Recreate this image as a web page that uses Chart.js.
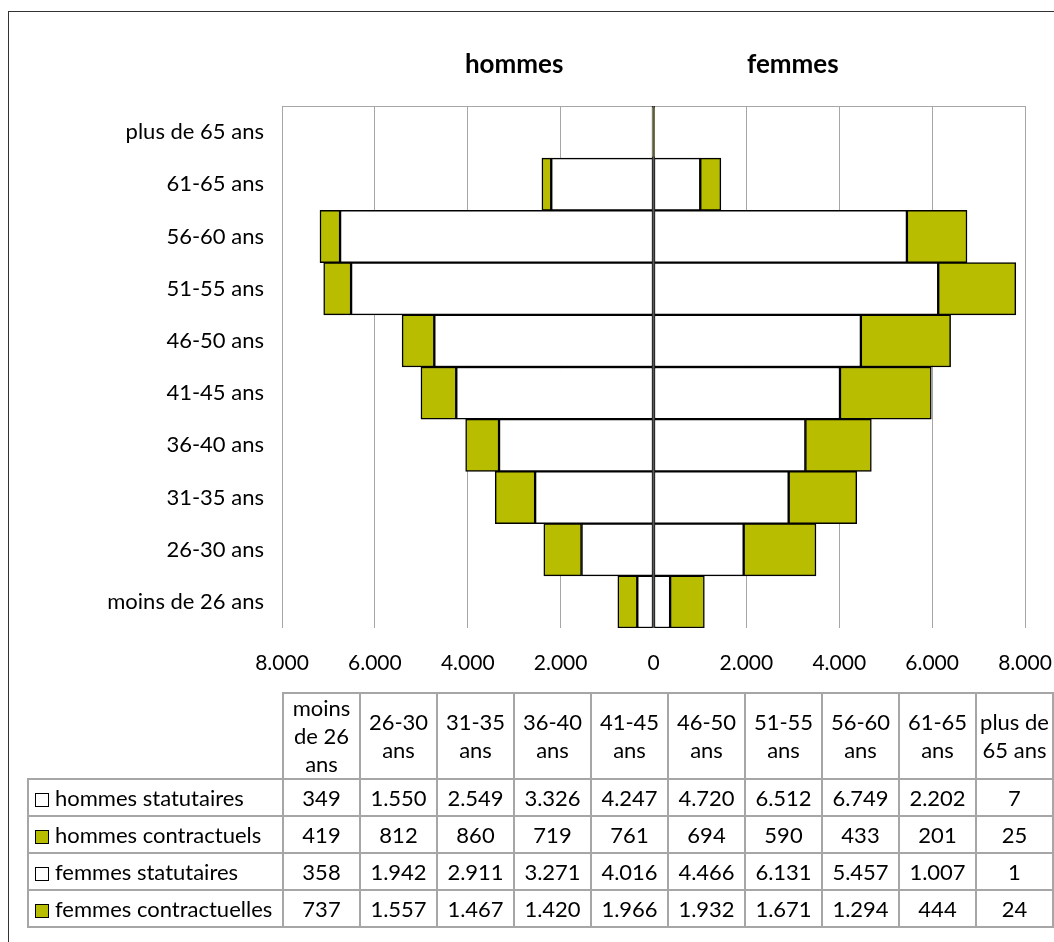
<!DOCTYPE html>
<html lang="fr">
<head>
    <meta charset="UTF-8">
    <title>Pyramide des âges</title>
    <script src="https://cdn.jsdelivr.net/npm/chart.js"></script>
    <style>
        html, body { margin: 0; padding: 0; background: #fff; overflow: hidden; }
        body { width: 1054px; height: 942px; position: relative; font-family: Lato, "Noto Sans", sans-serif; }
        #frame { position: absolute; left: 8px; top: 11px; width: 1200px; height: 1000px;
                 border-left: 1.5px solid #333; border-top: 1.5px solid #333; }
        #wrap { position: absolute; left: 0; top: 0; width: 1054px; height: 700px; }
        #dataTable { position: absolute; left: 27px; top: 692px; border-collapse: collapse;
                     table-layout: fixed; font-size: 22px; color: #000; }
        #dataTable td, #dataTable th { border: 2px solid #a6a6a6; text-align: center;
                     font-weight: normal; padding: 0 2px; }
        #dataTable th { height: 84px; line-height: 28px; vertical-align: middle; }
        #dataTable td { height: 35px; line-height: 35px; white-space: nowrap; }
        #dataTable th.blank { border-top: none; border-left: none; }
        #dataTable td.name { text-align: left; padding-left: 6px; }
        .key { display: inline-block; width: 12px; height: 12px; border: 1.5px solid #000;
               margin-right: 6px; vertical-align: -1px; }
    </style>
</head>
<body>
    <div id="frame"></div>
    <div id="wrap"><canvas id="pyramid" width="1054" height="700"></canvas></div>
    <table id="dataTable"></table>

    <script>
        const ageGroups = ["moins de 26 ans", "26-30 ans", "31-35 ans", "36-40 ans", "41-45 ans",
                           "46-50 ans", "51-55 ans", "56-60 ans", "61-65 ans", "plus de 65 ans"];
        const hommesStatutaires = [349, 1550, 2549, 3326, 4247, 4720, 6512, 6749, 2202, 7];
        const hommesContractuels = [419, 812, 860, 719, 761, 694, 590, 433, 201, 25];
        const femmesStatutaires = [358, 1942, 2911, 3271, 4016, 4466, 6131, 5457, 1007, 1];
        const femmesContractuelles = [737, 1557, 1467, 1420, 1966, 1932, 1671, 1294, 444, 24];
        const seriesNames = ["hommes statutaires", "hommes contractuels", "femmes statutaires", "femmes contractuelles"];
        const sideTitles = ["hommes", "femmes"];

        const OLIVE = "#b8bd00";
        const FONT = "Lato, 'Noto Sans', sans-serif";

        // 1.550 style thousands separator
        const fmt = v => Math.abs(v).toLocaleString("de-DE");

        const series = [
            { label: seriesNames[0], values: hommesStatutaires, sign: -1, color: "#ffffff" },
            { label: seriesNames[1], values: hommesContractuels, sign: -1, color: OLIVE },
            { label: seriesNames[2], values: femmesStatutaires, sign: 1, color: "#ffffff" },
            { label: seriesNames[3], values: femmesContractuelles, sign: 1, color: OLIVE }
        ];

        // "hommes" / "femmes" headings over each half
        const sideTitlePlugin = {
            id: "sideTitles",
            afterDraw(chart) {
                const ctx = chart.ctx;
                const x = chart.scales.x;
                ctx.save();
                ctx.font = "bold 26px " + FONT;
                ctx.fillStyle = "#000";
                ctx.textAlign = "center";
                ctx.textBaseline = "middle";
                ctx.fillText(sideTitles[0], x.getPixelForValue(-3000), 65);
                ctx.fillText(sideTitles[1], x.getPixelForValue(3000), 65);
                ctx.restore();
            }
        };

        // grey line along the top of the plot area, and the zero axis drawn over the bars
        const axisLinesPlugin = {
            id: "axisLines",
            beforeDatasetsDraw(chart) {
                const a = chart.chartArea;
                const ctx = chart.ctx;
                ctx.save();
                ctx.strokeStyle = "#a6a6a6";
                ctx.lineWidth = 1;
                ctx.beginPath();
                ctx.moveTo(a.left, a.top + 0.5);
                ctx.lineTo(a.right, a.top + 0.5);
                ctx.stroke();
                ctx.restore();
            },
            afterDatasetsDraw(chart) {
                const a = chart.chartArea;
                const ctx = chart.ctx;
                const x0 = chart.scales.x.getPixelForValue(0);
                ctx.save();
                ctx.strokeStyle = "#595959";
                ctx.lineWidth = 2;
                ctx.beginPath();
                ctx.moveTo(x0, a.top);
                ctx.lineTo(x0, a.bottom);
                ctx.stroke();
                ctx.restore();
            }
        };

        new Chart(document.getElementById("pyramid"), {
            type: "bar",
            data: {
                labels: ageGroups,
                datasets: series.map(s => ({
                    label: s.label,
                    data: s.values.map(v => s.sign * v),
                    backgroundColor: s.color,
                    borderColor: "#000",
                    borderWidth: 1.5,
                    borderSkipped: false,
                    barPercentage: 1,
                    categoryPercentage: 1
                }))
            },
            options: {
                indexAxis: "y",
                responsive: false,
                animation: false,
                layout: { padding: { top: 106, right: 29, left: 0, bottom: 0 } },
                plugins: { legend: { display: false }, tooltip: { enabled: false } },
                scales: {
                    x: {
                        stacked: true,
                        min: -8000,
                        max: 8000,
                        ticks: {
                            stepSize: 2000,
                            padding: 23,
                            color: "#000",
                            font: { family: FONT, size: 21 },
                            maxRotation: 0,
                            callback: v => fmt(v)
                        },
                        grid: {
                            color: "#a6a6a6",
                            lineWidth: 1,
                            drawTicks: false
                        },
                        border: { display: false },
                        afterFit: s => { s.height = 72; s.paddingLeft = 0; s.paddingRight = 0; }
                    },
                    y: {
                        stacked: true,
                        reverse: true,
                        ticks: {
                            padding: 10,
                            color: "#000",
                            font: { family: FONT, size: 22 }
                        },
                        grid: { display: false },
                        border: { display: false },
                        afterFit: s => { s.width = 282; }
                    }
                }
            },
            plugins: [sideTitlePlugin, axisLinesPlugin]
        });

        // data table under the chart
        const table = document.getElementById("dataTable");
        let html = '<colgroup><col style="width:255px">' + ageGroups.map(() => '<col style="width:77px">').join("") + '</colgroup>';
        html += '<tr><th class="blank"></th>' + ageGroups.map(g => "<th>" + g + "</th>").join("") + "</tr>";
        series.forEach(s => {
            html += '<tr><td class="name"><span class="key" style="background:' + s.color + '"></span>' + s.label + "</td>" +
                    s.values.map(v => "<td>" + fmt(v) + "</td>").join("") + "</tr>";
        });
        table.innerHTML = html;
    </script>
</body>
</html>
